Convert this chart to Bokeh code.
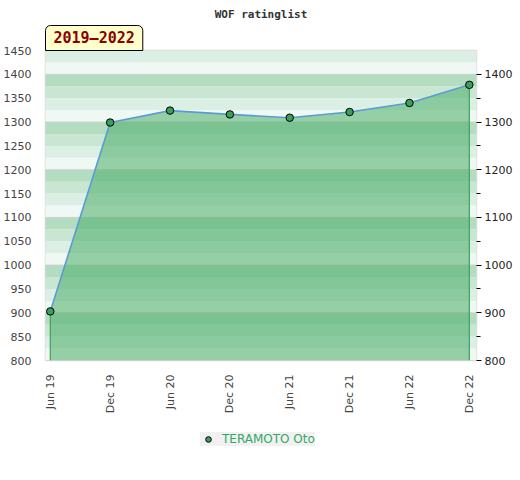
from bokeh.plotting import figure
from bokeh.models import (Range1d, LinearAxis, FixedTicker, Legend, LegendItem, Title)
from bokeh.layouts import column
from bokeh.embed import file_html
from bokeh.resources import INLINE
from math import pi

title = "WOF ratinglist"
period = "2019–2022"
player = "TERAMOTO Oto"
dates = ["Jun 19", "Dec 19", "Jun 20", "Dec 20", "Jun 21", "Dec 21", "Jun 22", "Dec 22"]
ratings = [903, 1299, 1324, 1316, 1309, 1321, 1340, 1378]
y_min, y_max = 800, 1450
left_ticks = list(range(800, 1451, 50))
right_ticks = list(range(800, 1401, 100))
right_minor = list(range(850, 1400, 100))
band_colors = ["#eff8f2", "#dcefe4", "#c8e6d2", "#b3dcc1"]  # from bottom within each 100

xs = list(range(len(dates)))

p = figure(frame_width=431, frame_height=310, output_backend="svg", toolbar_location=None,
           x_range=Range1d(-0.08, len(dates) - 1 + 0.12),
           y_range=Range1d(y_min, y_max),
           min_border_left=37, min_border_right=0, min_border_top=0, min_border_bottom=0)

p.title.text = title
p.title.align = "center"
p.title.text_font = "DejaVu Sans Mono"
p.title.text_font_size = "11px"
p.title.text_font_style = "bold"
p.title.text_color = "#333333"
p.title.offset = 0
p.title.standoff = 0
p.title.padding = {"top": 5, "bottom": 3, "left": 0, "right": 0}

p.outline_line_color = "#dddddd"
p.outline_line_width = 1.5
p.background_fill_color = "white"
p.xgrid.visible = False
p.ygrid.visible = False

# background bands
b_bottom, b_top, b_col = [], [], []
v = y_min
while v < y_max:
    b_bottom.append(v)
    b_top.append(v + 25)
    b_col.append(band_colors[(v // 25) % 4])
    v += 25
p.quad(left=-1, right=len(dates) + 1, bottom=b_bottom, top=b_top, color=b_col, line_width=0)
p.segment(x0=-1, x1=len(dates) + 1, y0=right_ticks, y1=right_ticks, line_color="#d0d0d0", line_width=1)

# area
p.varea(x=xs, y1=[y_min] * len(xs), y2=ratings, fill_color=(75, 173, 104), fill_alpha=0.55)
p.segment(x0=[xs[0], xs[-1]], x1=[xs[0], xs[-1]], y0=[y_min, y_min], y1=[ratings[0], ratings[-1]],
          line_color="#3aa35a", line_width=1.2)
p.line(xs, ratings, line_color="#5b9bd5", line_width=1.6)
sc = p.scatter(xs, ratings, size=7.5, fill_color="#3a9f5c", line_color="black", line_width=1)

# axes
xa = p.xaxis[0]
xa.ticker = FixedTicker(ticks=xs)
xa.major_label_overrides = {i: d for i, d in enumerate(dates)}
xa.major_label_orientation = pi / 2
xa.axis_line_color = None
xa.major_tick_line_color = None
xa.minor_tick_line_color = None
xa.major_label_text_font = "DejaVu Sans"
xa.major_label_text_font_size = "11px"
xa.major_label_text_color = "#444444"
xa.major_label_standoff = 8

ya = p.yaxis[0]
ya.ticker = FixedTicker(ticks=left_ticks)
ya.axis_line_color = None
ya.major_tick_line_color = None
ya.minor_tick_line_color = None
ya.major_label_text_font = "DejaVu Sans"
ya.major_label_text_font_size = "11px"
ya.major_label_text_color = "#444444"
ya.major_label_standoff = 8

ra = LinearAxis(ticker=FixedTicker(ticks=right_ticks, minor_ticks=right_minor))
ra.axis_line_color = None
ra.major_tick_line_color = "black"
ra.major_tick_in = 0
ra.major_tick_out = 5
ra.minor_tick_line_color = "black"
ra.minor_tick_in = 0
ra.minor_tick_out = 4
ra.major_label_text_font = "DejaVu Sans"
ra.major_label_text_font_size = "11px"
ra.major_label_text_color = "#222222"
ra.major_label_standoff = 3
p.add_layout(ra, "right")

lab = Title(text=period, align="left", offset=0, standoff=0,
            text_font="DejaVu Sans Mono", text_font_size="15px", text_font_style="bold",
            text_color="#8b0000",
            background_fill_color="#ffffcc", border_line_color="black", border_line_width=1,
            padding={"left": 8, "right": 8, "top": 3, "bottom": 4},
            border_radius={"top_left": 5, "top_right": 5, "bottom_left": 0, "bottom_right": 0})
p.add_layout(lab, "above")

# legend strip below the chart
p2 = figure(width=504, height=52, output_backend="svg", toolbar_location=None,
            x_range=Range1d(100, 101), y_range=Range1d(0, 1),
            x_axis_location=None, y_axis_location=None, min_border=0)
p2.outline_line_color = None
p2.xgrid.visible = False
p2.ygrid.visible = False
sc2 = p2.scatter(xs, ratings, size=7.5, fill_color="#3a9f5c", line_color="black", line_width=1)
legend = Legend(items=[LegendItem(label=player, renderers=[sc2])], orientation="horizontal",
                location=(155, 22), background_fill_color="#f0f0f0", border_line_color=None,
                label_text_color="#33a865", label_text_font="DejaVu Sans", label_text_font_size="12px",
                margin=0, padding=3, glyph_width=16, glyph_height=14, label_height=14,
                label_standoff=6)
p2.add_layout(legend)

layout = column(p, p2, spacing=0)
open("out.html", "w").write(file_html(layout, INLINE))
